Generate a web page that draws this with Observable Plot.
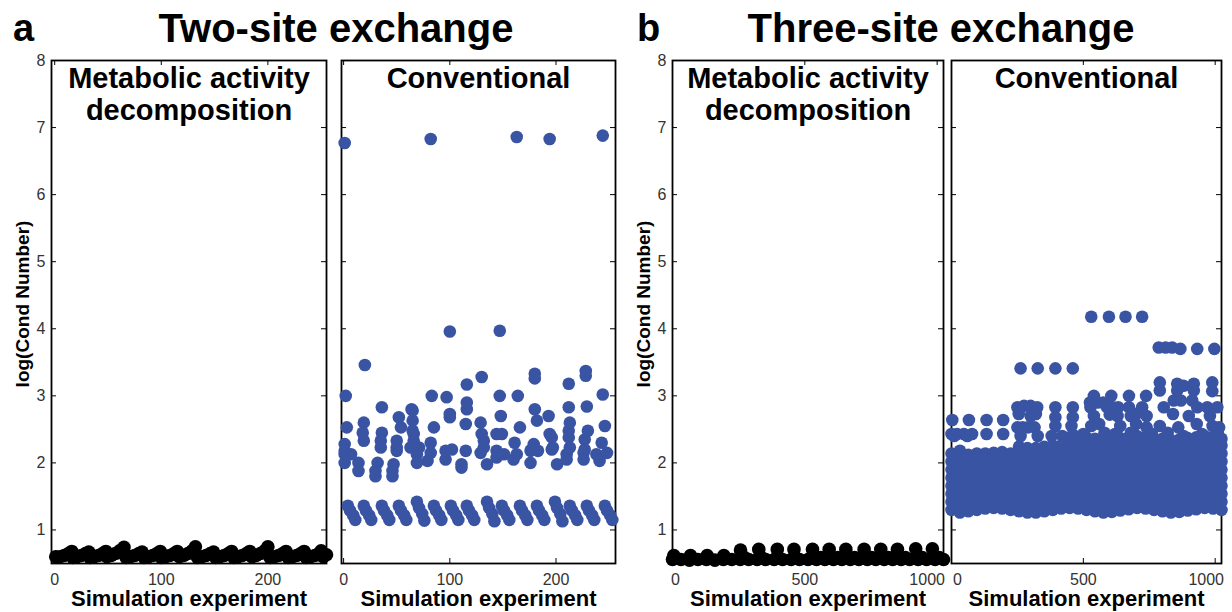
<!DOCTYPE html>
<html><head><meta charset="utf-8">
<script src="https://cdn.jsdelivr.net/npm/d3@7"></script>
<script src="https://cdn.jsdelivr.net/npm/@observablehq/plot@0.6"></script>
<style>
html,body{margin:0;padding:0;background:#fff;}
#root{position:relative;width:1232px;height:612px;overflow:hidden;font-family:"Liberation Sans",Arial,Helvetica,sans-serif;}
.t{position:absolute;font-weight:bold;line-height:1;white-space:nowrap;color:#000;}
.panel{position:absolute;top:40px;}
.panel svg{overflow:visible;}
</style></head><body><div id="root"></div>
<script>
// ---------- text ----------
const panelLetters = ["a", "b"];
const mainTitles = ["Two-site exchange", "Three-site exchange"];
const subTitles = [["Metabolic activity", "decomposition"], ["Conventional"]];
const xLabel = "Simulation experiment";
const yLabel = "log(Cond Number)";
const yTicks = [1, 2, 3, 4, 5, 6, 7, 8];
const xTicksA = [0, 100, 200];
const xTicksB = [0, 500, 1000];

// ---------- data: a, two-site, metabolic activity decomposition ----------
const aMetab = [
  [1,.60],[5,.60],[9,.62],[13,.65],[16,.68],
  [17,.59],[21,.60],[25,.62],[29,.65],[32,.67],
  [33,.59],[37,.60],[41,.62],[45,.65],[48,.68],
  [49,.60],[53,.62],[57,.65],[61,.69],[65,.74],
  [67,.59],[71,.60],[75,.62],[79,.65],[82,.67],
  [84,.59],[88,.60],[92,.62],[96,.65],[99,.68],
  [100,.59],[104,.60],[108,.62],[112,.65],[115,.68],
  [117,.60],[121,.62],[125,.65],[129,.69],[132,.75],
  [134,.59],[138,.60],[142,.62],[146,.65],[149,.67],
  [151,.59],[155,.60],[159,.62],[163,.65],[166,.68],
  [168,.59],[172,.60],[176,.62],[180,.65],[183,.68],
  [185,.60],[189,.62],[193,.65],[197,.69],[200,.75],
  [202,.59],[206,.60],[210,.62],[214,.65],[217,.68],
  [219,.59],[223,.60],[227,.62],[231,.65],[234,.68],
  [236,.59],[240,.60],[244,.62],[248,.65],[250,.69],
  [252,.60],[255,.63]
];

// ---------- data: a, two-site, conventional ----------
const aConvHigh = [
  [1,6.77],[82,6.83],[163,6.86],[194,6.83],[244,6.88],
  [100,3.96],[147,3.97],[20,3.46]
];
const aConvMid = [
  [2,3.0],[83,3.0],[97,2.98],[147,3.0],[164,3.0],[244,3.02],
  [116,3.17],[130,3.28],[180,3.33],[180,3.26],[212,3.18],[228,3.37],[228,3.3],
  [36,2.83],[64,2.8],[116,2.9],[116,2.8],[180,2.8],[212,2.83],[229,2.84],
  [100,2.73],[100,2.68],[148,2.7],[193,2.7],
  [52,2.68],[65,2.78],[65,2.63],[65,2.48],[182,2.63],[213,2.6],
  [3,2.53],[19,2.6],[85,2.53],[115,2.58],[129,2.6],[166,2.53],[246,2.55],
  [18,2.45],[36,2.45],[54,2.53],[66,2.43],[130,2.43],[144,2.43],[149,2.43],[194,2.43],[212,2.48],[230,2.48],
  [1,2.28],[19,2.33],[35,2.33],[50,2.33],[66,2.33],[82,2.3],[132,2.33],[161,2.3],[179,2.28],[196,2.38],[212,2.38],[227,2.35],[243,2.3],
  [1,2.18],[35,2.23],[50,2.23],[63,2.23],[71,2.23],[132,2.23],[177,2.2],[197,2.23],[213,2.23],[227,2.2],
  [1,2.13],[7,2.13],[50,2.18],[69,2.13],[82,2.15],[96,2.18],[102,2.2],[115,2.18],[129,2.15],[144,2.18],[151,2.13],[163,2.13],[176,2.18],[183,2.18],[196,2.2],[210,2.13],[226,2.15],[238,2.13],[248,2.15],
  [1,2.0],[14,2.0],[32,2.0],[47,1.98],[69,2.0],[79,2.03],[96,2.05],[111,1.98],[135,1.98],[144,2.08],[160,2.05],[176,2.0],[201,1.98],[210,2.05],[226,2.05],[241,2.03],
  [14,1.88],[30,1.88],[46,1.88],[111,1.93],[30,1.8],[46,1.8]
];
const aConvLow = [
  [4,1.36],[6,1.29],[9,1.22],[11,1.15],
  [19,1.36],[21,1.29],[24,1.22],[26,1.15],
  [36,1.36],[38,1.29],[41,1.22],[43,1.15],
  [52,1.36],[54,1.29],[57,1.22],[59,1.15],
  [69,1.42],[71,1.33],[74,1.24],[76,1.14],
  [85,1.36],[87,1.29],[90,1.22],[92,1.15],
  [101,1.36],[103,1.29],[106,1.22],[108,1.15],
  [116,1.36],[118,1.29],[121,1.22],[123,1.15],
  [135,1.42],[137,1.33],[140,1.24],[142,1.13],
  [149,1.36],[151,1.29],[154,1.22],[156,1.15],
  [166,1.36],[168,1.29],[171,1.22],[173,1.15],
  [182,1.36],[184,1.29],[187,1.22],[189,1.15],
  [199,1.42],[201,1.33],[204,1.24],[206,1.13],
  [213,1.36],[215,1.29],[218,1.22],[220,1.15],
  [229,1.36],[231,1.29],[234,1.22],[236,1.15],
  [246,1.36],[248,1.29],[251,1.22],[253,1.15]
];

// ---------- data: b, three-site, metabolic activity decomposition ----------
const bMetabBase = [
  [0,.56],[32,.56],[64,.55],[96,.56],[128,.56],[160,.55],[192,.56],[224,.56],
  [256,.56],[288,.56],[320,.56],[352,.56],[384,.56],[416,.56],[448,.56],[480,.56],
  [512,.56],[544,.56],[576,.56],[608,.56],[640,.56],[672,.56],[704,.56],[736,.56],
  [768,.56],[800,.56],[832,.56],[864,.56],[896,.56],[928,.56],[960,.56],[992,.56],[1024,.56],
  [272,.59],[336,.59],[400,.59],[464,.59],[528,.59],[560,.59],[624,.59],[688,.59],
  [752,.59],[816,.59],[880,.59],[944,.59],[1008,.59]
];
const bMetabPeaks = [
  [5,.62],[68,.62],[131,.62],[194,.62],[257,.70],[326,.71],[396,.71],[459,.71],
  [529,.71],[592,.71],[655,.71],[724,.71],[787,.71],[850,.71],[919,.72],[982,.72]
];

// ---------- data: b, three-site, conventional ----------
const bConvCols = [
  [0,[1.30,1.42,1.54,1.66,1.78,1.90,2.02,2.14]],
  [32,[1.26,1.38,1.50,1.62,1.74,1.86,1.98,2.10,2.18]],
  [64,[1.28,1.40,1.52,1.64,1.76,1.88,2.00,2.12]],
  [96,[1.30,1.42,1.54,1.66,1.78,1.90,2.02,2.14]],
  [128,[1.32,1.44,1.56,1.68,1.80,1.92,2.04,2.14]],
  [160,[1.33,1.45,1.57,1.69,1.81,1.93,2.05,2.15]],
  [192,[1.32,1.44,1.56,1.68,1.80,1.92,2.04,2.16]],
  [224,[1.30,1.42,1.54,1.66,1.78,1.90,2.02,2.14]],
  [256,[1.28,1.40,1.52,1.64,1.76,1.88,2.00,2.12,2.24]],
  [288,[1.26,1.38,1.50,1.62,1.74,1.86,1.98,2.10,2.22]],
  [320,[1.26,1.38,1.50,1.62,1.74,1.86,1.98,2.10,2.22]],
  [352,[1.28,1.40,1.52,1.64,1.76,1.88,2.00,2.12,2.24]],
  [384,[1.30,1.42,1.54,1.66,1.78,1.90,2.02,2.14,2.26]],
  [416,[1.32,1.44,1.56,1.68,1.80,1.92,2.04,2.16,2.26]],
  [448,[1.33,1.45,1.57,1.69,1.81,1.93,2.05,2.17,2.28]],
  [480,[1.32,1.44,1.56,1.68,1.80,1.92,2.04,2.16,2.28,2.38]],
  [512,[1.30,1.42,1.54,1.66,1.78,1.90,2.02,2.14,2.26,2.38]],
  [544,[1.28,1.40,1.52,1.64,1.76,1.88,2.00,2.12,2.24,2.36]],
  [576,[1.26,1.38,1.50,1.62,1.74,1.86,1.98,2.10,2.22,2.34]],
  [608,[1.27,1.39,1.51,1.63,1.75,1.87,1.99,2.11,2.23,2.35]],
  [640,[1.29,1.41,1.53,1.65,1.77,1.89,2.01,2.13,2.25,2.37]],
  [672,[1.31,1.43,1.55,1.67,1.79,1.91,2.03,2.15,2.27,2.38]],
  [704,[1.33,1.45,1.57,1.69,1.81,1.93,2.05,2.17,2.29,2.40]],
  [736,[1.32,1.44,1.56,1.68,1.80,1.92,2.04,2.16,2.28,2.38]],
  [768,[1.30,1.42,1.54,1.66,1.78,1.90,2.02,2.14,2.26,2.36]],
  [800,[1.28,1.40,1.52,1.64,1.76,1.88,2.00,2.12,2.24,2.36]],
  [832,[1.26,1.38,1.50,1.62,1.74,1.86,1.98,2.10,2.22,2.34]],
  [864,[1.27,1.39,1.51,1.63,1.75,1.87,1.99,2.11,2.23,2.35]],
  [896,[1.29,1.41,1.53,1.65,1.77,1.89,2.01,2.13,2.25,2.37]],
  [928,[1.31,1.43,1.55,1.67,1.79,1.91,2.03,2.15,2.27,2.38]],
  [960,[1.33,1.45,1.57,1.69,1.81,1.93,2.05,2.17,2.29,2.40]],
  [992,[1.32,1.44,1.56,1.68,1.80,1.92,2.04,2.16,2.28,2.38]],
  [1024,[1.30,1.42,1.54,1.66,1.78,1.90,2.02,2.14,2.26,2.36]]
];
const bConvUpper = [
  [3,2.64],[66,2.64],[133,2.64],[196,2.64],
  [0,2.43],[21,2.43],[47,2.43],[78,2.43],[133,2.43],[196,2.43],[10,2.40],[60,2.40],
  [262,3.41],[327,3.41],[394,3.41],[460,3.41],
  [250,2.83],[275,2.85],[300,2.85],[325,2.83],[394,2.83],[460,2.83],
  [255,2.73],[300,2.70],[320,2.73],[394,2.68],[460,2.68],
  [250,2.53],[270,2.53],[290,2.53],[315,2.53],[394,2.55],[455,2.55],
  [262,2.40],[327,2.40],[380,2.40],[420,2.40],[460,2.42],
  [530,4.18],[597,4.18],[660,4.18],[723,4.18],
  [786,3.72],[812,3.72],[837,3.72],[868,3.70],[932,3.70],[997,3.70],
  [790,3.20],[790,3.08],[856,3.18],[880,3.15],[919,3.18],[856,3.08],[919,3.08],[989,3.20],[989,3.07],
  [540,3.00],[525,2.90],[555,2.90],[575,2.90],[606,3.00],[673,3.00],[738,3.00],
  [843,2.93],[870,2.93],[913,2.93],
  [527,2.83],[590,2.83],[612,2.83],[632,2.83],[673,2.83],[723,2.83],[805,2.83],[932,2.83],[970,2.83],[1008,2.83],
  [540,2.70],[600,2.72],[630,2.70],[680,2.70],[700,2.73],[740,2.70],[840,2.73],[900,2.70],[980,2.70],
  [530,2.55],[560,2.58],[640,2.55],[700,2.58],[740,2.53],[790,2.55],[860,2.53],[930,2.58],[990,2.55],[1015,2.53],
  [500,2.43],[580,2.45],[620,2.43],[680,2.45],[760,2.43],[820,2.45],[880,2.40],[950,2.43],[1010,2.45]
];

// ---------- styling ----------
const BLUE = "#3a54a4";
const BLACK = "#000000";
const FRAME_H = 503;
const MT = 20, MB = 49;
const FONT = "'Liberation Sans', Arial, Helvetica, sans-serif";

function makePanel(o) {
  const w = o.w;
  const marks = [
    Plot.ruleY(yTicks, {y: d => d, insetRight: w - 5, stroke: "#000", strokeWidth: 1}),
    Plot.ruleY(yTicks, {y: d => d, insetLeft: w - 5, stroke: "#000", strokeWidth: 1}),
    Plot.ruleX(o.xTicks, {x: d => d, insetTop: FRAME_H - 5, stroke: "#000", strokeWidth: 1}),
    Plot.ruleX(o.xTicks, {x: d => d, insetBottom: FRAME_H - 5, stroke: "#000", strokeWidth: 1}),
    Plot.frame({stroke: "#000", strokeWidth: 1.8}),
    ...o.series.map(s => Plot.dot(s, {x: d => d[0], y: d => d[1], r: o.r, fill: o.color})),
  ];
  o.titles.forEach((t, i) => marks.push(
    Plot.text([t], {text: d => d, frameAnchor: "top", dy: 27 + i * 32, lineAnchor: "bottom",
      textAnchor: "middle", fontSize: 29, fontWeight: "bold", fill: "#000"})));
  o.xLabels.forEach(([vals, dx]) => marks.push(
    Plot.text(vals, {x: d => d, text: d => String(d), frameAnchor: "bottom", dy: 16, dx,
      textAnchor: "middle", lineAnchor: "middle", fontSize: 16, fill: "#333"})));
  marks.push(Plot.text([xLabel], {text: d => d, frameAnchor: "bottom", dy: 35, lineAnchor: "middle",
    textAnchor: "middle", fontSize: 22, fontWeight: "bold", fill: "#000"}));
  if (o.showY) {
    marks.push(Plot.text(yTicks, {y: d => d, text: d => String(d), frameAnchor: "left", dx: -6,
      textAnchor: "end", lineAnchor: "middle", fontSize: 16, fill: "#333"}));
    marks.push(Plot.text([yLabel], {text: d => d, frameAnchor: "left", dx: -29, dy: -8, rotate: -90,
      textAnchor: "middle", lineAnchor: "middle", fontSize: 19, fontWeight: "bold", fill: "#000"}));
  }
  const chart = Plot.plot({
    width: o.mLeft + w + o.mRight,
    height: MT + FRAME_H + MB,
    marginTop: MT, marginBottom: MB, marginLeft: o.mLeft, marginRight: o.mRight,
    x: {domain: o.xDomain, axis: null},
    y: {domain: [0.5, 8], axis: null},
    style: {fontFamily: FONT, fontSize: "16px", overflow: "visible", background: "transparent", color: "#000"},
    marks
  });
  const div = document.createElement("div");
  div.className = "panel";
  div.style.left = o.left + "px";
  div.appendChild(chart);
  document.getElementById("root").appendChild(div);
}

const bConvDense = bConvCols.flatMap(([x, ys]) => ys.map(y => [x, y]));

makePanel({left: 0, mLeft: 51, mRight: 8, w: 275, xDomain: [-3, 255], xTicks: xTicksA,
  xLabels: [[xTicksA, 0]], series: [aMetab], color: BLACK, r: 6.8, titles: subTitles[0], showY: true});
makePanel({left: 334, mLeft: 7, mRight: 7, w: 274, xDomain: [-2, 256], xTicks: xTicksA,
  xLabels: [[xTicksA, 0]], series: [aConvHigh, aConvMid, aConvLow], color: BLUE, r: 6.3, titles: subTitles[1], showY: false});
makePanel({left: 622, mLeft: 50, mRight: 4, w: 271, xDomain: [0, 1024], xTicks: xTicksB,
  xLabels: [[[xTicksB[0]], 3], [[xTicksB[1]], 0], [[xTicksB[2]], -10]], series: [bMetabBase, bMetabPeaks], color: BLACK, r: 6.8, titles: subTitles[0], showY: true});
makePanel({left: 947, mLeft: 4, mRight: 11, w: 270, xDomain: [0, 1024], xTicks: xTicksB,
  xLabels: [[[xTicksB[0]], 6], [[xTicksB[1]], 0], [[xTicksB[2]], -9]], series: [bConvDense, bConvUpper], color: BLUE, r: 6.3, titles: subTitles[1], showY: false});

// ---------- main titles ----------
function addTitle(text, left, width, align, size) {
  const d = document.createElement("div");
  d.className = "t";
  d.textContent = text;
  d.style.left = left + "px";
  d.style.width = width + "px";
  d.style.textAlign = align;
  d.style.fontSize = size + "px";
  d.style.top = (42 - Math.round(size * 0.86)) + "px";
  document.getElementById("root").appendChild(d);
}
addTitle(panelLetters[0], 13, 40, "left", 38);
addTitle(mainTitles[0], 136, 400, "center", 40);
addTitle(panelLetters[1], 637, 40, "left", 38);
addTitle(mainTitles[1], 741, 400, "center", 40);
</script></body></html>
